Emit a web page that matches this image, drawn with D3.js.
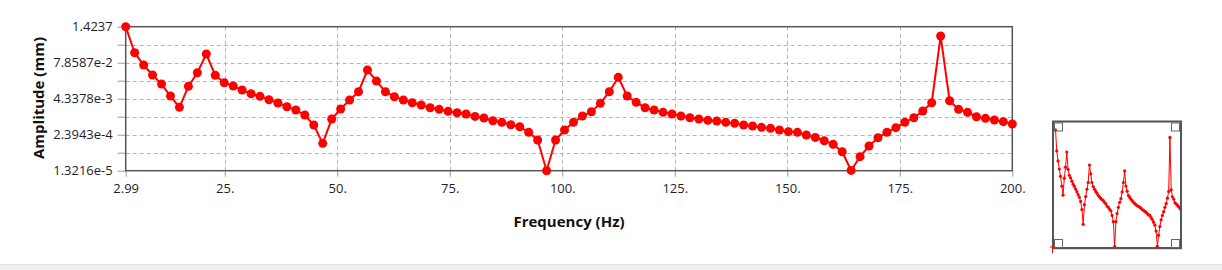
<!DOCTYPE html>
<html>
<head>
<meta charset="utf-8">
<script src="https://cdn.jsdelivr.net/npm/d3@7"></script>
<style>
  html, body { margin: 0; padding: 0; background: #ffffff; }
  svg { display: block; }
  text { font-family: "Open Sans", "Noto Sans", sans-serif; }
</style>
</head>
<body>
<svg id="chart" width="1222" height="270"></svg>
<script>
// ---- data ----
const frequencies = [2.99, 4.98, 6.97, 8.96, 10.95, 12.94, 14.93, 16.92, 18.91, 20.9,
  22.89, 24.88, 26.87, 28.86, 30.85, 32.84, 34.83, 36.82, 38.81, 40.8,
  42.79, 44.78, 46.77, 48.76, 50.75, 52.74, 54.73, 56.72, 58.71, 60.7,
  62.69, 64.68, 66.67, 68.66, 70.65, 72.64, 74.63, 76.62, 78.61, 80.6,
  82.59, 84.58, 86.57, 88.56, 90.55, 92.54, 94.53, 96.52, 98.51, 100.5,
  102.49, 104.48, 106.47, 108.46, 110.45, 112.44, 114.43, 116.42, 118.41, 120.4,
  122.39, 124.38, 126.37, 128.36, 130.35, 132.34, 134.33, 136.32, 138.31, 140.3,
  142.29, 144.28, 146.27, 148.26, 150.25, 152.24, 154.23, 156.22, 158.21, 160.2,
  162.19, 164.18, 166.17, 168.16, 170.15, 172.14, 174.13, 176.12, 178.11, 180.1,
  182.09, 184.08, 186.07, 188.06, 190.05, 192.04, 194.03, 196.02, 198.01, 200];

const amplitudes = [1.4237, 0.1757, 0.0651, 0.02913, 0.01411, 0.005375, 0.002159, 0.0117, 0.03514, 0.1579,
  0.02836, 0.01572, 0.01202, 0.008712, 0.006486, 0.005233, 0.004002, 0.00306, 0.002278, 0.001742,
  0.001165, 0.000521, 0.0001193, 0.000844, 0.001888, 0.003896, 0.007617, 0.04355, 0.01797, 0.007617,
  0.005094, 0.003896, 0.003144, 0.002605, 0.002102, 0.001838, 0.001565, 0.001406, 0.001263, 0.001046,
  0.000915, 0.000739, 0.000646, 0.000535, 0.000456, 0.000289, 0.000156, 1.3216e-5, 0.000156, 0.000349,
  0.000646, 0.001075, 0.001524, 0.002979, 0.007617, 0.02414, 0.005375, 0.003229, 0.002102, 0.001742,
  0.001444, 0.001263, 0.001075, 0.00094, 0.000844, 0.000759, 0.000719, 0.000646, 0.000596, 0.000521,
  0.000481, 0.000432, 0.000399, 0.000349, 0.000305, 0.000289, 0.000233, 0.000193, 0.0001477, 0.00011,
  6.09e-5, 1.35e-5, 4.08e-5, 9.62e-5, 0.000188, 0.000289, 0.000421, 0.000646, 0.00094, 0.001608,
  0.003144, 0.6718, 0.003693, 0.001838, 0.001444, 0.001019, 0.000891, 0.000779, 0.000682, 0.000565];

const xTickValues = [2.99, 25, 50, 75, 100, 125, 150, 175, 200];
const xTickLabels = ["2.99", "25.", "50.", "75.", "100.", "125.", "150.", "175.", "200."];
const yTickValues = [1.3216e-5, 2.3943e-4, 4.3378e-3, 7.8587e-2, 1.4237];
const yTickLabels = ["1.3216e-5", "2.3943e-4", "4.3378e-3", "7.8587e-2", "1.4237"];
const xTitle = "Frequency (Hz)";
const yTitle = "Amplitude (mm)";

// ---- layout ----
const svg = d3.select("#chart");
const plot = { left: 125.7, right: 1012.3, top: 26.7, bottom: 170.7 };

const x = d3.scaleLinear().domain([2.99, 200]).range([plot.left, plot.right]);
const y = d3.scaleLog().domain([1.3216e-5, 1.4237]).range([plot.bottom, plot.top]);

// bottom strip of the window
svg.append("rect").attr("x", 0).attr("y", 264).attr("width", 1222).attr("height", 6).attr("fill", "#f0f0f0");
svg.append("line").attr("x1", 0).attr("x2", 1222).attr("y1", 264.5).attr("y2", 264.5).attr("stroke", "#e2e2e2");

// grid values: labelled ticks plus the geometric mid-points between them
const yGrid = [];
yTickValues.forEach((v, i) => {
  yGrid.push(v);
  if (i < yTickValues.length - 1) yGrid.push(Math.sqrt(v * yTickValues[i + 1]));
});

const g = svg.append("g");

// horizontal dashed grid
g.selectAll("line.hgrid").data(yGrid.filter((v, i) => i > 0 && i < yGrid.length - 1)).enter()
  .append("line").attr("class", "hgrid")
  .attr("x1", plot.left).attr("x2", plot.right)
  .attr("y1", d => Math.round(y(d)) + 0.5).attr("y2", d => Math.round(y(d)) + 0.5)
  .attr("stroke", "#b4b4b4").attr("stroke-dasharray", "4,3");

// vertical dashed grid
g.selectAll("line.vgrid").data(xTickValues.slice(1, -1)).enter()
  .append("line").attr("class", "vgrid")
  .attr("x1", d => Math.round(x(d)) + 0.5).attr("x2", d => Math.round(x(d)) + 0.5)
  .attr("y1", plot.top).attr("y2", plot.bottom)
  .attr("stroke", "#b4b4b4").attr("stroke-dasharray", "4,3");

// Left axis
const yAxis = d3.axisLeft(y).tickValues(yGrid).tickSize(8).tickFormat(d => {
  const k = yTickValues.indexOf(d);
  return k >= 0 ? yTickLabels[k] : "";
});
const ya = svg.append("g").attr("transform", `translate(${plot.left},0)`).call(yAxis);
ya.select(".domain").remove();
ya.selectAll(".tick line").attr("stroke", "#9a9a9a");
ya.selectAll(".tick text").attr("x", -13).attr("font-size", 13).attr("fill", "#1e1e2a")
  .style("font-family", "'Open Sans', sans-serif");

// Bottom axis
const xAxis = d3.axisBottom(x).tickValues(xTickValues).tickSize(6)
  .tickFormat((d, i) => xTickLabels[i]);
const xa = svg.append("g").attr("transform", `translate(0,${plot.bottom})`).call(xAxis);
xa.select(".domain").remove();
xa.selectAll(".tick line").attr("stroke", "#9a9a9a");
xa.selectAll(".tick text").attr("y", 13).attr("font-size", 13).attr("fill", "#1e1e2a")
  .style("font-family", "'Open Sans', sans-serif");

// Frame
svg.append("rect").attr("x", plot.left).attr("y", plot.top)
  .attr("width", plot.right - plot.left).attr("height", plot.bottom - plot.top)
  .attr("fill", "none").attr("stroke", "#555555").attr("stroke-width", 1.5);

// Series line
const line = d3.line().x((d, i) => x(frequencies[i])).y(d => y(d));
svg.append("path").datum(amplitudes).attr("d", line)
  .attr("fill", "none").attr("stroke", "#ff0000").attr("stroke-width", 2);

svg.append("g").selectAll("circle").data(amplitudes).enter().append("circle")
  .attr("cx", (d, i) => x(frequencies[i])).attr("cy", d => y(d)).attr("r", 4.5)
  .attr("fill", "#ff0000");

// Titles
svg.append("text").attr("x", (plot.left + plot.right) / 2).attr("y", 227)
  .attr("text-anchor", "middle").attr("font-size", 15).attr("font-weight", "bold")
  .attr("fill", "#111").text(xTitle);
svg.append("text").attr("transform", "translate(44,98) rotate(-90)")
  .attr("text-anchor", "middle").attr("font-size", 15).attr("font-weight", "bold")
  .attr("fill", "#111").text(yTitle);

// ---- overview thumbnail ----
const th = { left: 1054, right: 1180, top: 122.5, bottom: 248 };
const tg = svg.append("g");
tg.append("rect").attr("x", th.left - 0.5).attr("y", th.top - 0.5)
  .attr("width", th.right - th.left + 2).attr("height", th.bottom - th.top + 2)
  .attr("fill", "none").attr("stroke", "#d8d8d8").attr("stroke-width", 1);
const tx = d3.scaleLinear().domain([2.99, 200]).range([th.left + 1.5, th.right]);
const ty = d3.scaleLog().domain([1.3216e-5, 2.2]).range([th.bottom - 1.5, th.top + 3]);
const tline = d3.line().x((d, i) => tx(frequencies[i])).y(d => ty(d));
tg.append("path").datum(amplitudes).attr("d", tline)
  .attr("fill", "none").attr("stroke", "#ff0000").attr("stroke-width", 1);
tg.selectAll("circle").data(amplitudes).enter().append("circle")
  .attr("cx", (d, i) => tx(frequencies[i])).attr("cy", d => ty(d)).attr("r", 1.6)
  .attr("fill", "#ff0000");
tg.append("rect").attr("x", th.left - 1).attr("y", th.top - 1)
  .attr("width", th.right - th.left + 2).attr("height", th.bottom - th.top + 1)
  .attr("fill", "none").attr("stroke", "#555555").attr("stroke-width", 2);
// corner squares
[[th.left, th.top], [th.right - 9, th.top], [th.left, th.bottom - 9], [th.right - 9, th.bottom - 9]].forEach(p => {
  tg.append("rect").attr("x", p[0] + 0.5).attr("y", p[1] + 0.5).attr("width", 8).attr("height", 8)
    .attr("fill", "none").attr("stroke", "#666666").attr("stroke-width", 1);
});
// small red crosshair at lower-left corner
tg.append("line").attr("x1", th.left - 4).attr("x2", th.left + 1).attr("y1", th.bottom - 1).attr("y2", th.bottom - 1)
  .attr("stroke", "#ff0000").attr("stroke-width", 1);
tg.append("line").attr("x1", th.left - 1.5).attr("x2", th.left - 1.5).attr("y1", th.bottom - 3).attr("y2", th.bottom + 5)
  .attr("stroke", "#ff0000").attr("stroke-width", 1);
</script>
</body>
</html>
